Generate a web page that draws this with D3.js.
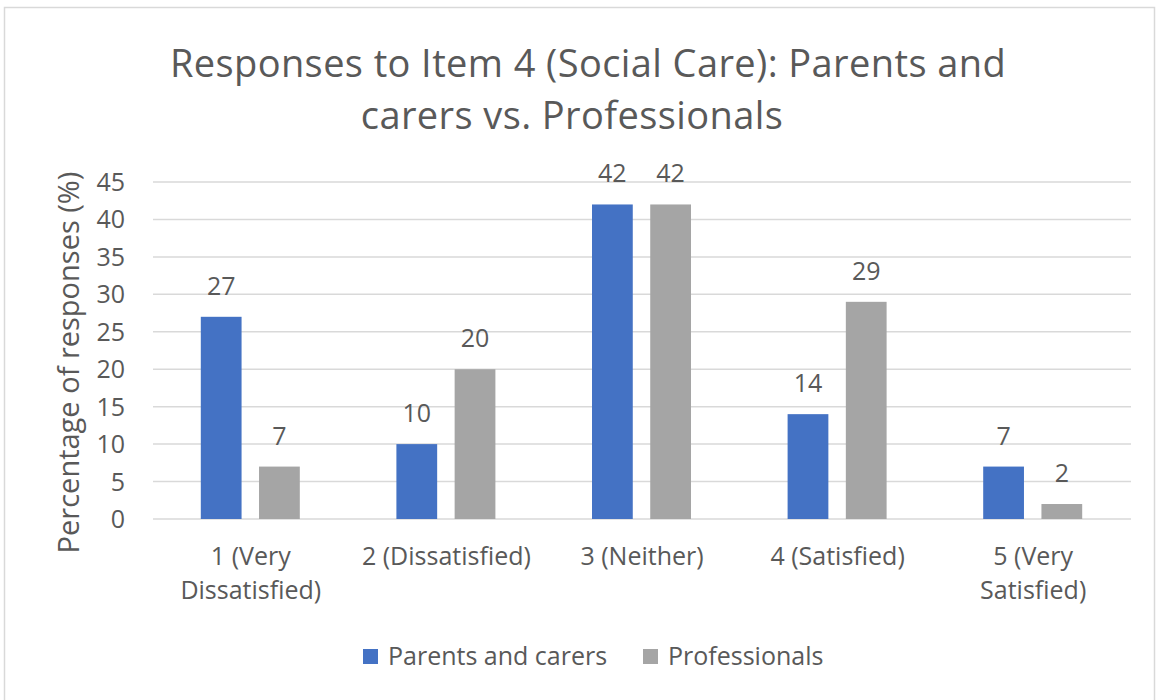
<!DOCTYPE html>
<html>
<head>
    <script src="https://cdnjs.cloudflare.com/ajax/libs/d3/7.8.5/d3.min.js"></script>
    <style>
        body { margin: 0; background: #fff; }
        text { font-family: "Open Sans", "Noto Sans", sans-serif; fill: #595959; }
    </style>
</head>
<body>
    <div id="chart"></div>
    <script>
        const categories = [["1 (Very", "Dissatisfied)"], ["2 (Dissatisfied)"], ["3 (Neither)"], ["4 (Satisfied)"], ["5 (Very", "Satisfied)"]]
        const seriesNames = ["Parents and carers", "Professionals"]
        const parents = [27, 10, 42, 14, 7]
        const professionals = [7, 20, 42, 29, 2]
        const yTicks = [0, 5, 10, 15, 20, 25, 30, 35, 40, 45]

        const W = 1159, H = 700
        const plot = { left: 153, right: 1131, top: 182, bottom: 519 }

        let svg = d3.select("#chart").append("svg").attr("width", W).attr("height", H)

        svg.append("rect").attr("x", 4.5).attr("y", 7.5).attr("width", 1150).attr("height", 720)
            .attr("fill", "#fff").attr("stroke", "#d9d9d9").attr("stroke-width", 1.5)

        let color = d3.scaleOrdinal().domain(seriesNames).range(["#4472c4", "#a5a5a5"])

        let x = d3.scaleBand().domain(d3.range(categories.length)).range([plot.left, plot.right])
        let x1 = d3.scaleBand().domain(seriesNames).range([0, 99]).paddingInner(0.3)
        let y = d3.scaleLinear().domain([0, 45]).range([plot.bottom, plot.top])

        // title
        let title = svg.append("text").attr("text-anchor", "middle").style("font-size", "38px").style("letter-spacing", "0.4px")
        title.append("tspan").attr("x", 588).attr("y", 77).text("Responses to Item 4 (Social Care): Parents and")
        title.append("tspan").attr("x", 572).attr("y", 129).text("carers vs. Professionals")

        // grid
        svg.append("g").selectAll("line").data(yTicks).join("line")
            .attr("x1", plot.left).attr("x2", plot.right)
            .attr("y1", d => y(d)).attr("y2", d => y(d))
            .attr("stroke", "#d9d9d9").attr("stroke-width", 1.5)

        svg.append("g").selectAll("text").data(yTicks).join("text")
            .attr("x", 125).attr("y", d => y(d) + 9).attr("text-anchor", "end")
            .style("font-size", "25px").text(d => d)

        svg.append("text").attr("transform", `translate(79,${(plot.top + plot.bottom) / 2 + 12}) rotate(-90)`)
            .attr("text-anchor", "middle").style("font-size", "29px").text("Percentage of responses (%)")

        // bars
        let groups = [parents, professionals]
        groups.forEach(function (vals, si) {
            let name = seriesNames[si]
            vals.forEach(function (v, i) {
                let bx = x(i) + x.bandwidth() / 2 - 50 + x1(name)
                svg.append("rect").attr("x", bx).attr("y", y(v))
                    .attr("width", x1.bandwidth()).attr("height", y(0) - y(v))
                    .attr("fill", color(name))
                svg.append("text").attr("x", bx + x1.bandwidth() / 2).attr("y", y(v) - 22)
                    .attr("text-anchor", "middle").style("font-size", "25px").text(v)
            })
        })

        // category labels
        categories.forEach(function (lines, i) {
            let t = svg.append("text").attr("text-anchor", "middle").style("font-size", "25px")
            lines.forEach(function (ln, j) {
                t.append("tspan").attr("x", x(i) + x.bandwidth() / 2).attr("y", 565 + j * 34).text(ln)
            })
        })

        // legend
        let legendX = [363, 643]
        seriesNames.forEach(function (name, i) {
            svg.append("rect").attr("x", legendX[i]).attr("y", 649).attr("width", 15).attr("height", 15).attr("fill", color(name))
            svg.append("text").attr("x", legendX[i] + 25).attr("y", 665).style("font-size", "25px").text(name)
        })
    </script>
</body>
</html>
